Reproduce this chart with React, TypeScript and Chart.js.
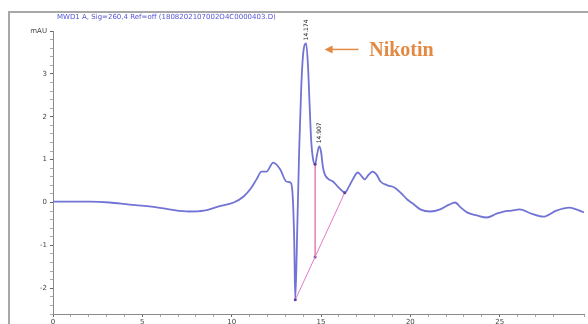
import React, { useEffect, useRef } from "react";
import { Chart, registerables } from "chart.js";

Chart.register(...registerables);

// Retention time (min) and signal (mAU) of the trace
const times = [0, 0.94, 2.06, 3.17, 4.28, 5.39, 6.5, 7.61, 8.44, 9.28, 10.11, 10.67, 11.11, 11.39, 11.67, 11.94, 12.33, 12.72, 13.06, 13.28, 13.39, 13.5, 13.56, 13.67, 13.78, 13.89, 14.0, 14.17, 14.27, 14.36, 14.45, 14.56, 14.67, 14.78, 14.9, 15.0, 15.11, 15.22, 15.44, 15.67, 15.94, 16.22, 16.33, 16.56, 16.78, 17.06, 17.28, 17.44, 17.67, 17.89, 18.11, 18.33, 18.72, 19.11, 19.5, 19.83, 20.22, 20.56, 21.11, 21.67, 22.17, 22.5, 22.83, 23.17, 23.72, 24.28, 24.83, 25.22, 25.67, 26.11, 26.78, 27.44, 28.17, 28.89, 29.28, 29.72];
const signal = [0.02, 0.02, 0.02, 0, -0.05, -0.09, -0.16, -0.21, -0.19, -0.09, 0, 0.14, 0.35, 0.54, 0.72, 0.72, 0.93, 0.77, 0.49, 0.47, 0.3, -0.86, -2.27, -0.63, 1.24, 2.64, 3.46, 3.71, 3.2, 2.3, 1.45, 1.0, 0.89, 1.12, 1.31, 1.19, 0.82, 0.65, 0.54, 0.49, 0.37, 0.26, 0.23, 0.37, 0.54, 0.7, 0.61, 0.54, 0.65, 0.72, 0.65, 0.49, 0.4, 0.35, 0.21, 0.07, -0.05, -0.16, -0.21, -0.16, -0.05, 0, -0.12, -0.23, -0.3, -0.35, -0.26, -0.21, -0.19, -0.16, -0.26, -0.33, -0.19, -0.12, -0.16, -0.23];

// Integration baseline and drop line
const baselineTimes = [13.56, 16.33];
const baselineValues = [-2.27, 0.23];
const dropTimes = [14.67, 14.67];
const dropValues = [0.89, -1.27];

// Peak labels
const peakTimes = [14.174, 14.907];
const peakValues = [3.71, 1.31];
const peakLabels = ["14.174", "14.907"];

// Annotation
const annotationText = "Nikotin";
const annotationArrowTip = { t: 15.2, v: 3.57 };
const annotationArrowTail = { t: 17.1, v: 3.57 };
const annotationTextPos = { t: 17.7, v: 3.57 };

const titleText = "MWD1 A, Sig=260,4 Ref=off (1808202107002O4C0000403.D)";

// Axis
const xMin = 0;
const xMax = 29.72;
const yMin = -2.6;
const yMax = 4.0;
const xLabelValues = [0, 5, 10, 15, 20, 25];
const yLabelValues = [-2, -1, 0, 1, 2, 3];
const yUnitLabel = "mAU";

const overlayPlugin = {
  id: "overlay",
  beforeDraw(chart: any) {
    const ctx = chart.ctx;
    ctx.save();
    ctx.fillStyle = "#ffffff";
    ctx.fillRect(0, 0, chart.width, chart.height);
    ctx.strokeStyle = "#a8a8a8";
    ctx.lineWidth = 2;
    ctx.beginPath();
    ctx.moveTo(600, 12);
    ctx.lineTo(9, 12);
    ctx.lineTo(9, 330);
    ctx.stroke();
    ctx.fillStyle = "#5454d8";
    ctx.font = "7px 'DejaVu Sans'";
    ctx.textBaseline = "alphabetic";
    ctx.fillText(titleText, 57, 19);
    ctx.restore();
  },
  afterDatasetsDraw(chart: any) {
    const ctx = chart.ctx;
    const xs = chart.scales.x;
    const ys = chart.scales.y;
    ctx.save();
    // peak labels
    ctx.fillStyle = "#222";
    ctx.font = "6px 'DejaVu Sans'";
    peakTimes.forEach((t, i) => {
      const px = xs.getPixelForValue(t);
      const py = ys.getPixelForValue(peakValues[i]);
      ctx.save();
      ctx.translate(px + 2, py - 3);
      ctx.rotate(-Math.PI / 2);
      ctx.textAlign = "left";
      ctx.fillText(peakLabels[i], 0, 0);
      ctx.restore();
    });
    // annotation arrow
    const orange = "#e28a44";
    const tipX = xs.getPixelForValue(annotationArrowTip.t);
    const tipY = ys.getPixelForValue(annotationArrowTip.v);
    const tailX = xs.getPixelForValue(annotationArrowTail.t);
    ctx.strokeStyle = orange;
    ctx.fillStyle = orange;
    ctx.lineWidth = 1.5;
    ctx.beginPath();
    ctx.moveTo(tipX + 6, tipY);
    ctx.lineTo(tailX, tipY);
    ctx.stroke();
    ctx.beginPath();
    ctx.moveTo(tipX, tipY);
    ctx.lineTo(tipX + 8, tipY - 4);
    ctx.lineTo(tipX + 8, tipY + 4);
    ctx.closePath();
    ctx.fill();
    ctx.font = "bold 20px 'Liberation Serif'";
    ctx.textBaseline = "middle";
    ctx.textAlign = "left";
    ctx.fillText(
      annotationText,
      xs.getPixelForValue(annotationTextPos.t),
      ys.getPixelForValue(annotationTextPos.v) + 1
    );
    ctx.restore();
  },
};

export default function App() {
  const ref = useRef<HTMLCanvasElement | null>(null);
  useEffect(() => {
    if (!ref.current) return;
    const trace = times.map((t, i) => ({ x: t, y: signal[i] }));
    const baseline = baselineTimes.map((t, i) => ({ x: t, y: baselineValues[i] }));
    const drop = dropTimes.map((t, i) => ({ x: t, y: dropValues[i] }));
    const chart = new Chart(ref.current, {
      type: "line",
      data: {
        datasets: [
          {
            data: baseline,
            borderColor: "#e47ac8",
            borderWidth: 1,
            pointRadius: 1.5,
            pointBackgroundColor: "#6a3a9a",
            pointBorderWidth: 0,
            tension: 0,
          },
          {
            data: drop,
            borderColor: "#e0609a",
            borderWidth: 1.2,
            pointRadius: 1.5,
            pointBackgroundColor: "#6a3a9a",
            pointBorderWidth: 0,
            tension: 0,
          },
          {
            data: trace,
            borderColor: "#7174d4",
            borderWidth: 1.8,
            pointRadius: 0,
            cubicInterpolationMode: "monotone",
          },
        ],
      },
      options: {
        animation: false,
        responsive: false,
        maintainAspectRatio: false,
        layout: { padding: { left: 0, top: 31, right: 0, bottom: 0 } },
        plugins: { legend: { display: false }, tooltip: { enabled: false } },
        scales: {
          x: {
            type: "linear",
            min: xMin,
            max: xMax,
            afterFit(scale: any) {
              scale.height = 10;
            },
            border: { display: true, color: "#8a8a8a", width: 1 },
            grid: {
              drawOnChartArea: false,
              drawTicks: true,
              tickLength: 3,
              tickColor: (c: any) =>
                xLabelValues.includes(Math.round(c.tick?.value * 100) / 100) ? "#666" : "#aaa",
            },
            ticks: {
              stepSize: 1,
              autoSkip: false,
              maxRotation: 0,
              padding: 1,
              color: "#444",
              font: { size: 7, family: "'DejaVu Sans'" },
              callback: (v: any) => (xLabelValues.includes(Number(v)) ? String(v) : ""),
            },
          },
          y: {
            type: "linear",
            min: yMin,
            max: yMax,
            afterFit(scale: any) {
              scale.width = 53;
            },
            afterBuildTicks(scale: any) {
              const arr = [];
              for (let i = 0; i <= 33; i++) {
                arr.push({ value: Math.round((yMin + i * 0.2) * 10) / 10 });
              }
              scale.ticks = arr;
            },
            border: { display: true, color: "#8a8a8a", width: 1 },
            grid: {
              drawOnChartArea: false,
              drawTicks: true,
              tickLength: 3,
              tickColor: (c: any) => {
                const v = Math.round((c.tick?.value ?? 0) * 10) / 10;
                return yLabelValues.includes(v) || v === yMax ? "#666" : "#aaa";
              },
            },
            ticks: {
              autoSkip: false,
              padding: 3,
              color: "#444",
              font: { size: 7, family: "'DejaVu Sans'" },
              callback: (v: any) => {
                const n = Math.round(Number(v) * 10) / 10;
                if (n === yMax) return yUnitLabel;
                return yLabelValues.includes(n) ? String(n) : "";
              },
            },
          },
        },
      } as any,
      plugins: [overlayPlugin],
    });
    return () => chart.destroy();
  }, []);
  return (
    <div style={{ position: "fixed", left: 0, top: 0, width: 588, height: 324, background: "#fff" }}>
      <canvas ref={ref} width={588} height={324} style={{ width: 588, height: 324, display: "block" }} />
    </div>
  );
}
